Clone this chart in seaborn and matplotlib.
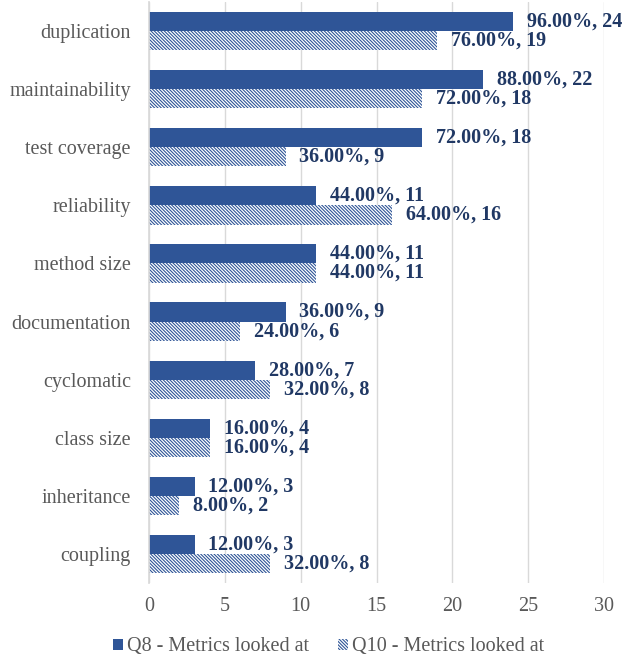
import matplotlib
matplotlib.use("Agg")
import matplotlib.pyplot as plt
import seaborn as sns
import pandas as pd
from matplotlib.patches import Patch

categories = ["duplication", "maintainability", "test coverage", "reliability", "method size",
              "documentation", "cyclomatic", "class size", "inheritance", "coupling"]
q8_counts = [24, 22, 18, 11, 11, 9, 7, 4, 3, 3]
q10_counts = [19, 18, 9, 16, 11, 6, 8, 4, 2, 8]
q8_pct = ["96.00%", "88.00%", "72.00%", "44.00%", "44.00%", "36.00%", "28.00%", "16.00%", "12.00%", "12.00%"]
q10_pct = ["76.00%", "72.00%", "36.00%", "64.00%", "44.00%", "24.00%", "32.00%", "16.00%", "8.00%", "32.00%"]
series = ["Q8 - Metrics looked at", "Q10 - Metrics looked at"]
xticks = [0, 5, 10, 15, 20, 25, 30]

df = pd.DataFrame({
    "metric": categories * 2,
    "count": q8_counts + q10_counts,
    "series": [series[0]] * len(categories) + [series[1]] * len(categories),
})

sns.set_theme(style="white")
plt.rcParams['font.family'] = ['Liberation Serif', 'DejaVu Serif']
plt.rcParams['hatch.linewidth'] = 0.8

blue = "#2F5597"
navy = "#203864"
gray = "#595959"
HATCH = "\\" * 10
FS = 14.5

fig = plt.figure(figsize=(6.32, 6.62), dpi=100)
ax = fig.add_axes([0.2358, 0.1193, 0.7199, 0.8776])

sns.barplot(data=df, y="metric", x="count", hue="series", order=categories,
            hue_order=series, orient="h", width=0.66, palette=[blue, "white"],
            ax=ax, legend=False, saturation=1)

for p in ax.containers[0].patches:
    p.set_facecolor(blue)
    p.set_edgecolor(blue)
    p.set_linewidth(0)
for p in ax.containers[1].patches:
    p.set_facecolor("white")
    p.set_edgecolor(blue)
    p.set_hatch(HATCH)
    p.set_linewidth(0)

for cont, pcts, cnts in [(ax.containers[0], q8_pct, q8_counts), (ax.containers[1], q10_pct, q10_counts)]:
    labels = [f"{pc}, {c}" for pc, c in zip(pcts, cnts)]
    ax.bar_label(cont, labels=labels, padding=10, fontsize=FS, fontweight="bold", color=navy)

ax.set_xlim(0, 30)
ax.set_xticks(xticks)
ax.set_xticklabels([str(t) for t in xticks])
ax.set_xlabel("")
ax.set_ylabel("")
ax.grid(axis="x", color="#D9D9D9", linewidth=1)
ax.set_axisbelow(True)
for s in ["top", "right", "bottom"]:
    ax.spines[s].set_visible(False)
ax.spines["left"].set_color("#D9D9D9")
ax.tick_params(axis="both", length=0, labelsize=FS, colors=gray)
ax.tick_params(axis="x", pad=10)
ax.tick_params(axis="y", pad=13)

handles = [Patch(facecolor=blue, edgecolor=blue, linewidth=0),
           Patch(facecolor="white", edgecolor=blue, hatch=HATCH, linewidth=0)]
fig.legend(handles, series, loc="center", bbox_to_anchor=(0.52, 0.0227), ncol=2, frameon=False,
           fontsize=FS, handlelength=0.5, handleheight=0.5, handletextpad=0.2, columnspacing=1.4,
           labelcolor=gray)

fig.savefig("out.png", dpi=100)
